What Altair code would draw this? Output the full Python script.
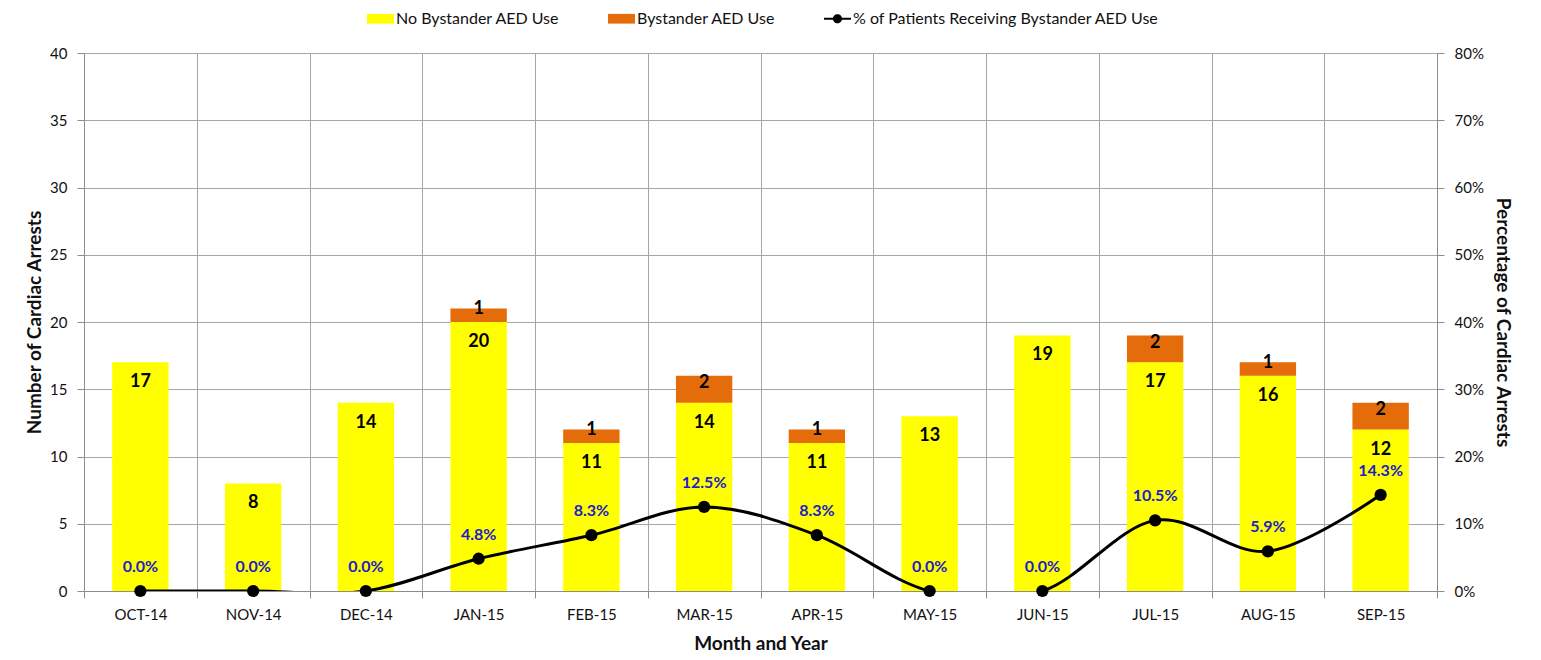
import altair as alt
import pandas as pd

months = ["OCT-14", "NOV-14", "DEC-14", "JAN-15", "FEB-15", "MAR-15",
          "APR-15", "MAY-15", "JUN-15", "JUL-15", "AUG-15", "SEP-15"]
no_aed = [17, 8, 14, 20, 11, 14, 11, 13, 19, 17, 16, 12]
aed = [0, 0, 0, 1, 1, 2, 1, 0, 0, 2, 1, 2]
pct = [0.0, 0.0, 0.0, 0.048, 0.083, 0.125, 0.083, 0.0, 0.0, 0.105, 0.059, 0.143]

S1 = "No Bystander AED Use"
S2 = "Bystander AED Use"
S3 = "% of Patients Receiving Bystander AED Use"
series_names = [S1, S2, S3]
series_colors = ["#FFFF00", "#E46C0A", "#000000"]
RECT = "M-1,-0.36H1V0.36H-1Z"
LINEDOT = "M-1,-0.08H1V0.08H-1Z M-0.34,0A0.34,0.34,0,1,1,0.34,0A0.34,0.34,0,1,1,-0.34,0Z"
series_shapes = [RECT, RECT, LINEDOT]

FONT = "Lato"
TITLE_SIZE = 19

rows = []
for m, a, b in zip(months, no_aed, aed):
    rows.append({"month": m, "series": S1, "lo": 0, "hi": a, "val": a, "mid": a})
    rows.append({"month": m, "series": S2, "lo": a, "hi": a + b, "val": b, "mid": a + b / 2})
bars_df = pd.DataFrame(rows)
line_df = pd.DataFrame({"month": months, "pct": pct, "series": S3})
legend_df = pd.DataFrame({"month": [months[0]] * 3, "pct": [0.0] * 3, "series": series_names})

legend = alt.Legend(orient="none", legendX=283, legendY=-48, direction="horizontal",
                    title=None, labelFont=FONT, labelFontSize=16, labelColor="#111",
                    labelLimit=500, columnPadding=48, labelOffset=2, symbolSize=729,
                    symbolStrokeWidth=0, symbolOpacity=1)

x_enc = alt.X("month:N", sort=months, title="Month and Year",
              scale=alt.Scale(paddingInner=0, paddingOuter=0),
              axis=alt.Axis(tickBand="extent", grid=True, labelAngle=0,
                            gridColor="#A6A6A6", domainColor="#8C8C8C", tickColor="#8C8C8C",
                            tickSize=7, labelPadding=9, labelFontSize=15, labelColor="#111",
                            titleFontSize=TITLE_SIZE, titleFontWeight="bold", titlePadding=12,
                            labelFont=FONT, titleFont=FONT, titleColor="#111"))

color_enc = alt.Color("series:N",
                      scale=alt.Scale(domain=series_names, range=series_colors),
                      legend=legend)

y_left = alt.Y("hi:Q", scale=alt.Scale(domain=[0, 40]),
               axis=alt.Axis(title="Number of Cardiac Arrests", values=list(range(0, 41, 5)),
                             grid=True, gridColor="#A6A6A6", domainColor="#8C8C8C",
                             tickColor="#8C8C8C", tickSize=7, labelPadding=10,
                             labelFontSize=15, labelColor="#111", titleFontSize=TITLE_SIZE,
                             titleFontWeight="bold", titlePadding=5, labelFont=FONT,
                             titleFont=FONT, titleColor="#111"))

bars = alt.Chart(bars_df).mark_bar(width=alt.RelativeBandSize(0.5)).encode(
    x=x_enc, y=y_left, y2="lo:Q", color=color_enc)

lab_yellow = alt.Chart(bars_df).transform_filter(alt.datum.series == S1).mark_text(
    font=FONT, fontSize=18, fontWeight="bold", color="#000", baseline="middle", dy=20
).encode(x=alt.X("month:N", sort=months), y=alt.Y("hi:Q"), text="val:Q")

lab_orange = alt.Chart(bars_df).transform_filter(
    (alt.datum.series == S2) & (alt.datum.val > 0)).mark_text(
    font=FONT, fontSize=18, fontWeight="bold", color="#000", baseline="middle", dy=-6
).encode(x=alt.X("month:N", sort=months), y=alt.Y("mid:Q"), text="val:Q")

left = alt.layer(bars, lab_yellow, lab_orange)

y_right = alt.Y("pct:Q", scale=alt.Scale(domain=[0, 0.8]),
                axis=alt.Axis(title="Percentage of Cardiac Arrests", orient="right",
                              values=[i / 10 for i in range(0, 9)], format=".0%", grid=False,
                              domainColor="#8C8C8C", tickColor="#8C8C8C", tickSize=7,
                              labelPadding=10, labelFontSize=15, labelColor="#111",
                              titleFontSize=TITLE_SIZE, titleFontWeight="bold", titlePadding=9,
                              labelFont=FONT, titleFont=FONT, titleColor="#111"))

line = alt.Chart(line_df).mark_line(interpolate="cardinal", strokeWidth=3, clip=True).encode(
    x=alt.X("month:N", sort=months), y=y_right, color=alt.Color("series:N"))
points = alt.Chart(line_df).mark_circle(size=150, opacity=1).encode(
    x=alt.X("month:N", sort=months), y=alt.Y("pct:Q"), color=alt.Color("series:N"))
pct_lab = alt.Chart(line_df).mark_text(
    font=FONT, fontSize=16, fontWeight="bold", color="#2020C8", baseline="middle", dy=-24
).encode(x=alt.X("month:N", sort=months), y=alt.Y("pct:Q"), text=alt.Text("pct:Q", format=".1%"))
legend_layer = alt.Chart(legend_df).mark_point(filled=True, opacity=0, size=1).encode(
    x=alt.X("month:N", sort=months), y=alt.Y("pct:Q"),
    color=alt.Color("series:N"),
    shape=alt.Shape("series:N", scale=alt.Scale(domain=series_names, range=series_shapes),
                    legend=legend))

right = alt.layer(line, points, pct_lab, legend_layer)

chart = alt.layer(left, right).resolve_scale(y="independent").properties(
    width=1353, height=538,
    autosize=alt.AutoSizeParams(type="none"),
    padding={"left": 76, "top": 45, "right": 96, "bottom": 61},
).configure_view(stroke=None).configure(background="white")

chart.save("out.html", embed_options={"renderer": "svg", "actions": False})
